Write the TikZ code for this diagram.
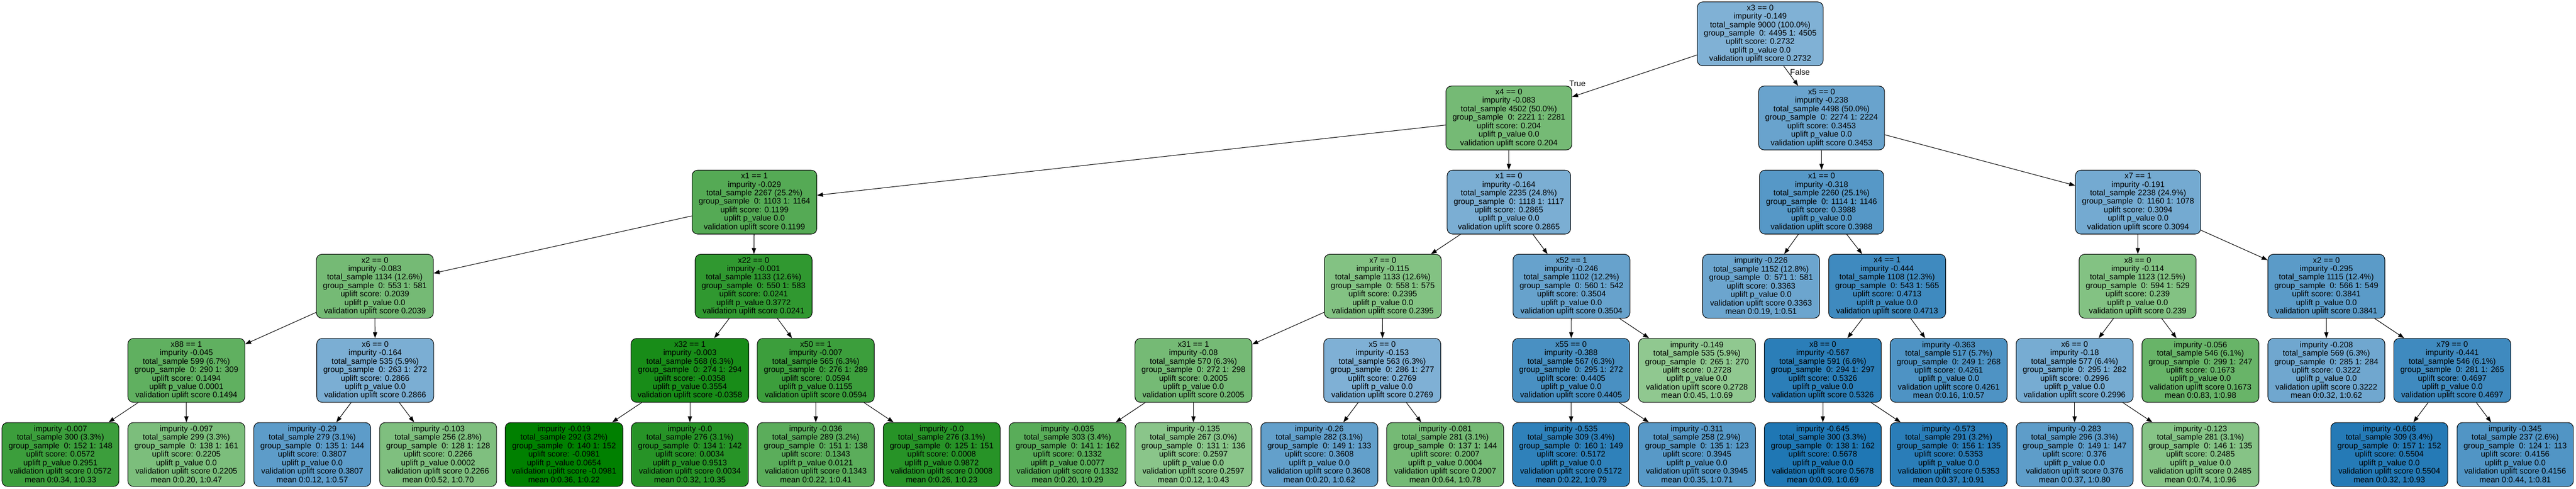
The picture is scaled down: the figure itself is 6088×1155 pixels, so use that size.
\documentclass[tikz,border=0pt]{standalone}
\usepackage{fontspec}
\setmainfont{Liberation Sans}
\usetikzlibrary{arrows.meta}
\definecolor{dkgreen}{RGB}{0,128,0}
\definecolor{ltgreen}{RGB}{144,200,144}
\definecolor{dkblue}{RGB}{31,119,180}
\definecolor{ltblue}{RGB}{128,177,213}
\tikzset{
	treebox/.style={draw=black, line width=1.3pt, rounded corners=13pt, align=center, minimum height=151pt, inner xsep=15.5pt, inner ysep=0pt, font=\fontsize{19}{20}\selectfont},
	gbox/.style={treebox, fill=dkgreen!#1!ltgreen},
	bbox/.style={treebox, fill=dkblue!#1!ltblue},
	treeline/.style={-{Triangle[length=14pt,width=10pt]}, line width=1.3pt},
	branch/.style={font=\fontsize{19}{20}\selectfont}
}
\def\splitlabel#1#2#3#4#5#6#7#8{#1\\impurity #2\\total\_sample #3 (#4\%)\\group\_sample~~0: #5 1: #6\\uplift score: #7\\uplift p\_value #8\\validation uplift score #7}
\def\leaflabel#1#2#3#4#5#6#7#8#9{impurity #1\\total\_sample #2 (#3\%)\\group\_sample~~0: #4 1: #5\\uplift score: #6\\uplift p\_value #7\\validation uplift score #6\\mean 0:#8, 1:#9}

\begin{document}
\begin{tikzpicture}[x=1pt, y=-1pt]
			%%%%% START %%%%%
			\useasboundingbox (0, 0) rectangle (6088, 1155);
			
			\node[bbox=0] (n) at (4160, 80) {\splitlabel{x3 == 0}{-0.149}{9000}{100.0}{4495}{4505}{0.2732}{0.0}};
			
			\node[gbox=19] (nL) at (3566, 278.8) {\splitlabel{x4 == 0}{-0.083}{4502}{50.0}{2221}{2281}{0.204}{0.0}};
			\node[bbox=24] (nR) at (4305, 278.8) {\splitlabel{x5 == 0}{-0.238}{4498}{50.0}{2274}{2224}{0.3453}{0.0}};
			
			\node[gbox=41] (nLL) at (1783, 477.6) {\splitlabel{x1 == 1}{-0.029}{2267}{25.2}{1103}{1164}{0.1199}{0.0}};
			\node[bbox=5] (nLR) at (3566, 477.6) {\splitlabel{x1 == 0}{-0.164}{2235}{24.8}{1118}{1117}{0.2865}{0.0}};
			\node[bbox=43] (nRL) at (4305, 477.6) {\splitlabel{x1 == 0}{-0.318}{2260}{25.1}{1114}{1146}{0.3988}{0.0}};
			\node[bbox=12] (nRR) at (5053, 477.6) {\splitlabel{x7 == 1}{-0.191}{2238}{24.9}{1160}{1078}{0.3094}{0.0}};
			
			\node[gbox=19] (nLLL) at (886, 676.4) {\splitlabel{x2 == 0}{-0.083}{1134}{12.6}{553}{581}{0.2039}{0.0}};
			\node[gbox=67] (nLLR) at (1781, 676.4) {\splitlabel{x22 == 0}{-0.001}{1133}{12.6}{550}{583}{0.0241}{0.3772}};
			\node[gbox=9] (nLRL) at (3268, 676.4) {\splitlabel{x7 == 0}{-0.115}{1133}{12.6}{558}{575}{0.2395}{0.0}};
			\node[bbox=26] (nLRR) at (3714, 676.4) {\splitlabel{x52 == 1}{-0.246}{1102}{12.2}{560}{542}{0.3504}{0.0}};
			\node[bbox=21] (nRLL) at (4162, 676.4) {\leaflabel{-0.226}{1152}{12.8}{571}{581}{0.3363}{0.0}{0.19}{0.51}};
			\node[bbox=67] (nRLR) at (4460, 676.4) {\splitlabel{x4 == 1}{-0.444}{1108}{12.3}{543}{565}{0.4713}{0.0}};
			\node[gbox=9] (nRRL) at (5052, 676.4) {\splitlabel{x8 == 0}{-0.114}{1123}{12.5}{594}{529}{0.239}{0.0}};
			\node[bbox=38] (nRRR) at (5498, 676.4) {\splitlabel{x2 == 0}{-0.295}{1115}{12.4}{566}{549}{0.3841}{0.0}};
			
			\node[gbox=33] (nLLLL) at (440.5, 875.2) {\splitlabel{x88 == 1}{-0.045}{599}{6.7}{290}{309}{0.1494}{0.0001}};
			\node[bbox=5] (nLLLR) at (886.75, 875.2) {\splitlabel{x6 == 0}{-0.164}{535}{5.9}{263}{272}{0.2866}{0.0}};
			\node[gbox=83] (nLLRL) at (1630.5, 875.2) {\splitlabel{x32 == 1}{-0.003}{568}{6.3}{274}{294}{-0.0358}{0.3554}};
			\node[gbox=58] (nLLRR) at (1928, 875.2) {\splitlabel{x50 == 1}{-0.007}{565}{6.3}{276}{289}{0.0594}{0.1155}};
			\node[gbox=19] (nLRLL) at (2820.5, 875.2) {\splitlabel{x31 == 1}{-0.08}{570}{6.3}{272}{298}{0.2005}{0.0}};
			\node[bbox=1] (nLRLR) at (3266.75, 875.2) {\splitlabel{x5 == 0}{-0.153}{563}{6.3}{286}{277}{0.2769}{0.0}};
			\node[bbox=57] (nLRRL) at (3713, 875.2) {\splitlabel{x55 == 0}{-0.388}{567}{6.3}{295}{272}{0.4405}{0.0}};
			\node[gbox=0] (nLRRR) at (4010.5, 875.2) {\leaflabel{-0.149}{535}{5.9}{265}{270}{0.2728}{0.0}{0.45}{0.69}};
			\node[bbox=88] (nRLRL) at (4308, 875.2) {\splitlabel{x8 == 0}{-0.567}{591}{6.6}{294}{297}{0.5326}{0.0}};
			\node[bbox=52] (nRLRR) at (4605.5, 875.2) {\leaflabel{-0.363}{517}{5.7}{249}{268}{0.4261}{0.0}{0.16}{0.57}};
			\node[bbox=9] (nRRLL) at (4903, 875.2) {\splitlabel{x6 == 0}{-0.18}{577}{6.4}{295}{282}{0.2996}{0.0}};
			\node[gbox=28] (nRRLR) at (5200.5, 875.2) {\leaflabel{-0.056}{546}{6.1}{299}{247}{0.1673}{0.0}{0.83}{0.98}};
			\node[bbox=17] (nRRRL) at (5498, 875.2) {\leaflabel{-0.208}{569}{6.3}{285}{284}{0.3222}{0.0}{0.32}{0.62}};
			\node[bbox=67] (nRRRR) at (5795.5, 875.2) {\splitlabel{x79 == 0}{-0.441}{546}{6.1}{281}{265}{0.4697}{0.0}};
			
			\node[gbox=58] (nLLLLL) at (143, 1074) {\leaflabel{-0.007}{300}{3.3}{152}{148}{0.0572}{0.2951}{0.34}{0.33}};
			\node[gbox=14] (nLLLLR) at (440.5, 1074) {\leaflabel{-0.097}{299}{3.3}{138}{161}{0.2205}{0.0}{0.20}{0.47}};
			\node[bbox=36] (nLLLRL) at (738, 1074) {\leaflabel{-0.29}{279}{3.1}{135}{144}{0.3807}{0.0}{0.12}{0.57}};
			\node[gbox=12] (nLLLRR) at (1035.5, 1074) {\leaflabel{-0.103}{256}{2.8}{128}{128}{0.2266}{0.0002}{0.52}{0.70}};
			\node[gbox=100] (nLLRLL) at (1333, 1074) {\leaflabel{-0.019}{292}{3.2}{140}{152}{-0.0981}{0.0654}{0.36}{0.22}};
			\node[gbox=73] (nLLRLR) at (1630.5, 1074) {\leaflabel{-0.0}{276}{3.1}{134}{142}{0.0034}{0.9513}{0.32}{0.35}};
			\node[gbox=37] (nLLRRL) at (1928, 1074) {\leaflabel{-0.036}{289}{3.2}{151}{138}{0.1343}{0.0121}{0.22}{0.41}};
			\node[gbox=73] (nLLRRR) at (2225.5, 1074) {\leaflabel{-0.0}{276}{3.1}{125}{151}{0.0008}{0.9872}{0.26}{0.23}};
			\node[gbox=38] (nLRLLL) at (2523, 1074) {\leaflabel{-0.035}{303}{3.4}{141}{162}{0.1332}{0.0077}{0.20}{0.29}};
			\node[gbox=4] (nLRLLR) at (2820.5, 1074) {\leaflabel{-0.135}{267}{3.0}{131}{136}{0.2597}{0.0}{0.12}{0.43}};
			\node[bbox=30] (nLRLRL) at (3118, 1074) {\leaflabel{-0.26}{282}{3.1}{149}{133}{0.3608}{0.0}{0.20}{0.62}};
			\node[gbox=19] (nLRLRR) at (3415.5, 1074) {\leaflabel{-0.081}{281}{3.1}{137}{144}{0.2007}{0.0004}{0.64}{0.78}};
			\node[bbox=83] (nLRRLL) at (3713, 1074) {\leaflabel{-0.535}{309}{3.4}{160}{149}{0.5172}{0.0}{0.22}{0.79}};
			\node[bbox=41] (nLRRLR) at (4010.5, 1074) {\leaflabel{-0.311}{258}{2.9}{135}{123}{0.3945}{0.0}{0.35}{0.71}};
			\node[bbox=100] (nRLRLL) at (4308, 1074) {\leaflabel{-0.645}{300}{3.3}{138}{162}{0.5678}{0.0}{0.09}{0.69}};
			\node[bbox=89] (nRLRLR) at (4605.5, 1074) {\leaflabel{-0.573}{291}{3.2}{156}{135}{0.5353}{0.0}{0.37}{0.91}};
			\node[bbox=35] (nRRLLL) at (4903, 1074) {\leaflabel{-0.283}{296}{3.3}{149}{147}{0.376}{0.0}{0.37}{0.80}};
			\node[gbox=7] (nRRLLR) at (5200.5, 1074) {\leaflabel{-0.123}{281}{3.1}{146}{135}{0.2485}{0.0}{0.74}{0.96}};
			\node[bbox=94] (nRRRRL) at (5646.75, 1074) {\leaflabel{-0.606}{309}{3.4}{157}{152}{0.5504}{0.0}{0.32}{0.93}};
			\node[bbox=48] (nRRRRR) at (5944.25, 1074) {\leaflabel{-0.345}{237}{2.6}{124}{113}{0.4156}{0.0}{0.44}{0.81}};
			
			\draw[treeline] (n) -- (nL);
			\draw[treeline] (n) -- (nR);
			\node[branch] (ltrue) at (3728, 197) {True};
			\node[branch] (lfalse) at (4254, 170) {False};
			
			\draw[treeline] (nL) -- (nLL);
			\draw[treeline] (nL) -- (nLR);
			\draw[treeline] (nR) -- (nRL);
			\draw[treeline] (nR) -- (nRR);
			
			\draw[treeline] (nLL) -- (nLLL);
			\draw[treeline] (nLL) -- (nLLR);
			\draw[treeline] (nLR) -- (nLRL);
			\draw[treeline] (nLR) -- (nLRR);
			\draw[treeline] (nRL) -- (nRLL);
			\draw[treeline] (nRL) -- (nRLR);
			\draw[treeline] (nRR) -- (nRRL);
			\draw[treeline] (nRR) -- (nRRR);
			
			\draw[treeline] (nLLL) -- (nLLLL);
			\draw[treeline] (nLLL) -- (nLLLR);
			\draw[treeline] (nLLR) -- (nLLRL);
			\draw[treeline] (nLLR) -- (nLLRR);
			\draw[treeline] (nLRL) -- (nLRLL);
			\draw[treeline] (nLRL) -- (nLRLR);
			\draw[treeline] (nLRR) -- (nLRRL);
			\draw[treeline] (nLRR) -- (nLRRR);
			\draw[treeline] (nRLR) -- (nRLRL);
			\draw[treeline] (nRLR) -- (nRLRR);
			\draw[treeline] (nRRL) -- (nRRLL);
			\draw[treeline] (nRRL) -- (nRRLR);
			\draw[treeline] (nRRR) -- (nRRRL);
			\draw[treeline] (nRRR) -- (nRRRR);
			
			\draw[treeline] (nLLLL) -- (nLLLLL);
			\draw[treeline] (nLLLL) -- (nLLLLR);
			\draw[treeline] (nLLLR) -- (nLLLRL);
			\draw[treeline] (nLLLR) -- (nLLLRR);
			\draw[treeline] (nLLRL) -- (nLLRLL);
			\draw[treeline] (nLLRL) -- (nLLRLR);
			\draw[treeline] (nLLRR) -- (nLLRRL);
			\draw[treeline] (nLLRR) -- (nLLRRR);
			\draw[treeline] (nLRLL) -- (nLRLLL);
			\draw[treeline] (nLRLL) -- (nLRLLR);
			\draw[treeline] (nLRLR) -- (nLRLRL);
			\draw[treeline] (nLRLR) -- (nLRLRR);
			\draw[treeline] (nLRRL) -- (nLRRLL);
			\draw[treeline] (nLRRL) -- (nLRRLR);
			\draw[treeline] (nRLRL) -- (nRLRLL);
			\draw[treeline] (nRLRL) -- (nRLRLR);
			\draw[treeline] (nRRLL) -- (nRRLLL);
			\draw[treeline] (nRRLL) -- (nRRLLR);
			\draw[treeline] (nRRRR) -- (nRRRRL);
			\draw[treeline] (nRRRR) -- (nRRRRR);
			
			%%%%% END %%%%%
\end{tikzpicture}
\end{document}
